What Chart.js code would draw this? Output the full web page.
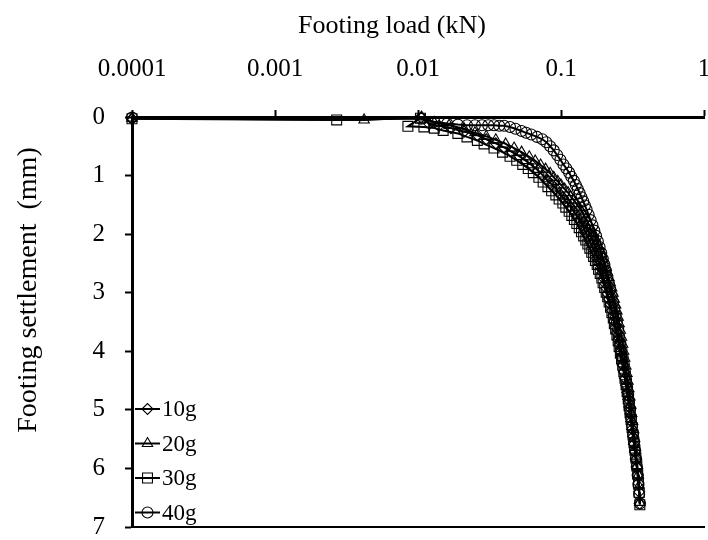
<!DOCTYPE html>
<html><head><meta charset="utf-8">
<script src="https://cdn.jsdelivr.net/npm/chart.js@4/dist/chart.umd.min.js"></script>
<style>html,body{margin:0;padding:0;background:#fff}#wrap{width:708px;height:540px}</style>
</head><body><div id="wrap"><canvas id="c" width="708" height="540"></canvas></div>
<script>
const xTitle = 'Footing load (kN)';
const yTitle = 'Footing settlement  (mm)';
const seriesNames = ['10g', '20g', '30g', '40g'];
const xTickValues = [0.0001, 0.001, 0.01, 0.1, 1];
const xTickLabels = ['0.0001', '0.001', '0.01', '0.1', '1'];

const load10 = [0.0001, 0.0105, 0.012, 0.014, 0.017, 0.021, 0.026, 0.030, 0.035, 0.040, 0.045, 0.051,
  0.057, 0.063, 0.069, 0.075, 0.080, 0.086, 0.092, 0.097, 0.103, 0.108, 0.114, 0.119, 0.125, 0.130, 0.135, 0.14,
  0.145, 0.149, 0.154, 0.159, 0.164, 0.169, 0.174, 0.179, 0.184, 0.189, 0.194, 0.198, 0.203, 0.207, 0.212, 0.217,
  0.222, 0.227, 0.232, 0.236, 0.241, 0.246, 0.250, 0.255, 0.26, 0.265, 0.27, 0.275, 0.28, 0.285, 0.29, 0.295,
  0.30, 0.305, 0.309, 0.314, 0.319, 0.324, 0.329, 0.334, 0.339, 0.344, 0.348, 0.352, 0.355];
const settle10 = [0.03, 0.01, 0.12, 0.15, 0.19, 0.25, 0.31, 0.38, 0.45, 0.52, 0.59, 0.67,
  0.75, 0.83, 0.91, 1.0, 1.08, 1.15, 1.22, 1.3, 1.37, 1.44, 1.51, 1.57, 1.64, 1.71, 1.77, 1.84,
  1.91, 1.98, 2.04, 2.12, 2.19, 2.27, 2.34, 2.42, 2.49, 2.58, 2.66, 2.75, 2.84, 2.92, 3.02, 3.11,
  3.2, 3.3, 3.39, 3.49, 3.59, 3.69, 3.8, 3.9, 4.01, 4.12, 4.24, 4.35, 4.46, 4.58, 4.7, 4.82,
  4.95, 5.07, 5.2, 5.33, 5.46, 5.59, 5.72, 5.85, 5.98, 6.11, 6.25, 6.4, 6.6];

const load20 = [0.0001, 0.0042, 0.0106, 0.013, 0.0165, 0.021, 0.025, 0.030, 0.035, 0.041, 0.047, 0.053,
  0.06, 0.066, 0.072, 0.078, 0.084, 0.089, 0.095, 0.1, 0.106, 0.112, 0.117, 0.123, 0.128, 0.134,
  0.139, 0.144, 0.149, 0.154, 0.159, 0.163, 0.168, 0.173, 0.178, 0.183, 0.188, 0.193, 0.197, 0.202,
  0.207, 0.211, 0.216, 0.221, 0.226, 0.231, 0.236, 0.241, 0.246, 0.251, 0.255, 0.26, 0.265, 0.27,
  0.274, 0.279, 0.284, 0.289, 0.294, 0.298, 0.303, 0.308, 0.312, 0.317, 0.322, 0.327, 0.332, 0.337,
  0.342, 0.347, 0.351, 0.355];
const settle20 = [0.02, 0.05, 0.0, 0.1, 0.14, 0.2, 0.27, 0.33, 0.39, 0.46, 0.53, 0.6,
  0.68, 0.75, 0.82, 0.89, 0.96, 1.03, 1.1, 1.16, 1.23, 1.29, 1.36, 1.42, 1.48, 1.55,
  1.61, 1.67, 1.73, 1.8, 1.86, 1.93, 1.99, 2.06, 2.13, 2.2, 2.27, 2.34, 2.41, 2.49,
  2.57, 2.65, 2.74, 2.83, 2.92, 3.01, 3.11, 3.21, 3.31, 3.42, 3.53, 3.64, 3.76, 3.88,
  4.0, 4.12, 4.25, 4.38, 4.51, 4.64, 4.78, 4.92, 5.06, 5.2, 5.34, 5.49, 5.64, 5.79,
  5.95, 6.11, 6.3, 6.58];

const load30 = [0.0001, 0.0027, 0.0104, 0.0085, 0.011, 0.013, 0.015, 0.019, 0.022, 0.026, 0.029, 0.034,
  0.039, 0.044, 0.049, 0.054, 0.059, 0.064, 0.07, 0.075, 0.081, 0.086, 0.092, 0.097, 0.103, 0.108, 0.114, 0.119,
  0.124, 0.129, 0.134, 0.139, 0.144, 0.149, 0.154, 0.159, 0.164, 0.169, 0.174, 0.179, 0.183, 0.188, 0.193, 0.197,
  0.202, 0.207, 0.212, 0.217, 0.222, 0.227, 0.232, 0.236, 0.241, 0.246, 0.251, 0.255, 0.26, 0.265, 0.27, 0.275,
  0.28, 0.285, 0.29, 0.295, 0.299, 0.304, 0.309, 0.314, 0.319, 0.324, 0.329, 0.334, 0.339, 0.344, 0.348, 0.352, 0.356];
const settle30 = [0.03, 0.05, 0.02, 0.16, 0.17, 0.19, 0.23, 0.28, 0.34, 0.4, 0.46, 0.53,
  0.6, 0.67, 0.74, 0.81, 0.88, 0.95, 1.03, 1.11, 1.19, 1.26, 1.33, 1.4, 1.47, 1.54, 1.61, 1.68,
  1.75, 1.82, 1.89, 1.96, 2.03, 2.1, 2.17, 2.24, 2.31, 2.38, 2.45, 2.52, 2.6, 2.67, 2.75, 2.83,
  2.91, 2.99, 3.07, 3.16, 3.25, 3.34, 3.43, 3.53, 3.62, 3.72, 3.82, 3.92, 4.03, 4.13, 4.24, 4.35,
  4.46, 4.57, 4.69, 4.81, 4.93, 5.05, 5.17, 5.3, 5.43, 5.56, 5.69, 5.82, 5.96, 6.1, 6.25, 6.41, 6.62];

const load40 = [0.0001, 0.0105, 0.013, 0.016, 0.019, 0.022, 0.025, 0.028, 0.031, 0.034, 0.037, 0.04,
  0.044, 0.048, 0.053, 0.057, 0.062, 0.068, 0.074, 0.079, 0.084,
  0.089, 0.094, 0.099, 0.104, 0.109, 0.114, 0.118, 0.123, 0.127, 0.131, 0.135, 0.139, 0.143, 0.147, 0.151,
  0.156, 0.161, 0.166, 0.171, 0.176, 0.181, 0.186, 0.191, 0.196, 0.201, 0.206, 0.211, 0.216, 0.221, 0.226, 0.231,
  0.236, 0.241, 0.246, 0.251, 0.255, 0.26, 0.265, 0.27, 0.275, 0.28, 0.285, 0.29, 0.295, 0.299, 0.304, 0.309,
  0.314, 0.319, 0.324, 0.329, 0.334, 0.339, 0.344, 0.348, 0.352, 0.356];
const settle40 = [0.01, 0.03, 0.08, 0.11, 0.13, 0.14, 0.14, 0.14, 0.14, 0.14, 0.15, 0.15,
  0.17, 0.2, 0.24, 0.27, 0.3, 0.34, 0.38, 0.43, 0.5,
  0.57, 0.65, 0.73, 0.81, 0.88, 0.95, 1.02, 1.09, 1.16, 1.23, 1.3, 1.37, 1.44, 1.51, 1.58,
  1.67, 1.76, 1.85, 1.94, 2.03, 2.12, 2.22, 2.32, 2.42, 2.52, 2.62, 2.73, 2.83, 2.94, 3.05, 3.16,
  3.27, 3.39, 3.5, 3.62, 3.74, 3.86, 3.98, 4.1, 4.22, 4.35, 4.48, 4.61, 4.74, 4.87, 5.0, 5.13,
  5.27, 5.41, 5.55, 5.69, 5.83, 5.97, 6.12, 6.28, 6.44, 6.6];

const SERIF = "'Liberation Serif', 'Times New Roman', serif";
const pts = (xs, ys) => xs.map((x, i) => ({x: x, y: ys[i]}));
const styles = [
  {pointStyle: 'rectRot', r: 5.5},
  {pointStyle: 'triangle', r: 6},
  {pointStyle: 'rect', r: 7},
  {pointStyle: 'circle', r: 5.5}
];
const allData = [pts(load10, settle10), pts(load20, settle20), pts(load30, settle30), pts(load40, settle40)];

const datasets = allData.map((d, i) => ({
  label: seriesNames[i],
  data: d,
  showLine: true,
  borderColor: '#000',
  borderWidth: 2,
  pointStyle: styles[i].pointStyle,
  pointRadius: styles[i].r,
  pointBorderWidth: 1.1,
  pointBorderColor: '#000',
  pointBackgroundColor: 'rgba(0,0,0,0)',
  clip: false
}));

const textPlugin = {
  id: 'texts',
  afterDraw(chart) {
    const ctx = chart.ctx, a = chart.chartArea;
    ctx.save();
    ctx.fillStyle = '#000';
    ctx.textAlign = 'center';
    ctx.textBaseline = 'middle';
    ctx.font = '26px ' + SERIF;
    ctx.fillText(xTitle, a.left + 260, a.top - 91);
    ctx.save();
    ctx.translate(a.left - 103, a.top + 173);
    ctx.rotate(-Math.PI / 2);
    ctx.font = '28px ' + SERIF;
    ctx.fillText(yTitle, 0, 0);
    ctx.restore();
    // legend
    ctx.font = '23px ' + SERIF;
    ctx.textAlign = 'left';
    chart.data.datasets.forEach((ds, i) => {
      const y = a.bottom - 118 + i * 34.5;
      const x0 = a.left + 3;
      ctx.strokeStyle = '#000';
      ctx.lineWidth = 2;
      ctx.beginPath();
      ctx.moveTo(x0, y);
      ctx.lineTo(x0 + 25, y);
      ctx.stroke();
      ctx.lineWidth = 1.1;
      ctx.fillStyle = 'rgba(0,0,0,0)';
      Chart.helpers.drawPoint(ctx, {pointStyle: ds.pointStyle, radius: ds.pointRadius, rotation: 0, borderWidth: 1.1}, x0 + 12.5, y);
      ctx.fillStyle = '#000';
      ctx.fillText(ds.label, x0 + 27, y + 1);
    });
    ctx.restore();
  }
};

new Chart(document.getElementById('c'), {
  type: 'scatter',
  data: {datasets},
  options: {
    responsive: false,
    animation: false,
    devicePixelRatio: 1,
    layout: {autoPadding: false, padding: {left: 0, right: 4, top: 0, bottom: 13}},
    plugins: {legend: {display: false}, tooltip: {enabled: false}},
    scales: {
      x: {
        type: 'logarithmic',
        position: 'top',
        min: 0.0001,
        max: 1,
        afterBuildTicks: s => { s.ticks = xTickValues.map(v => ({value: v})); },
        afterFit: s => { s.height = 117; s.paddingLeft = 0; s.paddingRight = 0; },
        ticks: {
          autoSkip: false, maxRotation: 0, color: '#000', padding: 26,
          font: {family: SERIF, size: 25},
          callback: v => { const k = xTickValues.indexOf(v); return k >= 0 ? xTickLabels[k] : ''; }
        },
        grid: {drawOnChartArea: false, drawTicks: true, tickLength: 7, tickWidth: 2, tickColor: '#000', color: '#000'},
        border: {color: '#000', width: 3}
      },
      x2: {
        type: 'linear',
        position: 'bottom',
        min: 0, max: 1,
        afterFit: s => { s.height = 0; s.paddingLeft = 0; s.paddingRight = 0; },
        ticks: {display: false},
        grid: {drawOnChartArea: false, drawTicks: false},
        border: {color: '#000', width: 2}
      },
      y: {
        type: 'linear',
        reverse: true,
        min: 0, max: 7,
        afterFit: s => { s.width = 132; s.paddingTop = 0; s.paddingBottom = 0; },
        ticks: {stepSize: 1, color: '#000', padding: 20, font: {family: SERIF, size: 25}},
        grid: {drawOnChartArea: false, drawTicks: true, tickLength: 7, tickWidth: 2, tickColor: '#000', color: '#000'},
        border: {color: '#000', width: 3}
      }
    }
  },
  plugins: [textPlugin]
});
</script>
</body></html>
